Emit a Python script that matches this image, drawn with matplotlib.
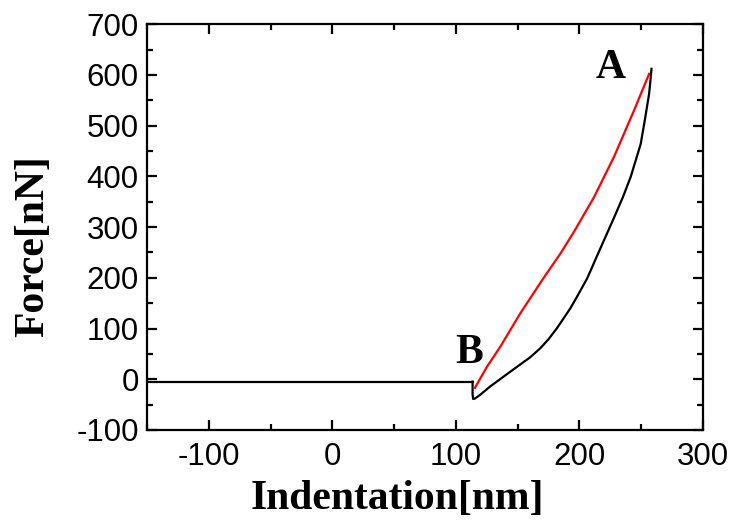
import numpy as np
import matplotlib.pyplot as plt
from matplotlib.ticker import MultipleLocator

plt.rcParams['axes.unicode_minus'] = False

# approach segment (flat, before contact)
approach_x = [-150, 113.5]
approach_y = [-4.5, -4.5]

# loading curve, B -> A
load_x = [115.4, 125.0, 135.8, 152.0, 169.7, 184.6, 195.4, 211.6, 227.9, 244.2, 256.4]
load_y = [-17.0, 24.0, 63.6, 129.4, 195.0, 247.7, 290.0, 358.0, 438.0, 530.0, 602.0]

# unloading curve, A -> snap-off
unload_x = [258.3, 257.5, 256.4, 253.0, 249.6, 241.5, 235.0, 227.9, 214.4, 206.3, 198.1,
            192.7, 181.9, 175.0, 168.3, 160.0, 152.0, 138.5, 127.6, 119.5, 115.4, 114.0,
            113.5, 113.5]
unload_y = [612.0, 590.0, 563.0, 512.0, 464.0, 399.0, 358.0, 318.0, 244.0, 199.0, 163.0,
            140.0, 101.0, 79.0, 61.0, 43.0, 29.0, 5.0, -14.5, -31.0, -38.0, -39.0,
            -30.0, -4.5]

x_ticks = [-100, 0, 100, 200, 300]
y_ticks = [-100, 0, 100, 200, 300, 400, 500, 600, 700]

fig = plt.figure(figsize=(7.3, 5.25), dpi=100)
ax = fig.add_axes([0.2014, 0.181, 0.7616, 0.773])

ax.plot(approach_x, approach_y, color='black', lw=1.6)
ax.plot(unload_x, unload_y, color='black', lw=1.6)
ax.plot(load_x, load_y, color='red', lw=1.6)

ax.set_xlim(-150, 300)
ax.set_ylim(-100, 700)
ax.set_xticks(x_ticks)
ax.set_yticks(y_ticks)
ax.xaxis.set_minor_locator(MultipleLocator(50))
ax.yaxis.set_minor_locator(MultipleLocator(50))

for lab in ax.get_xticklabels() + ax.get_yticklabels():
    lab.set_fontfamily('Liberation Sans')
    lab.set_fontsize(22.5)

ax.tick_params(which='both', direction='in', top=True, right=True, width=1.6)
ax.tick_params(which='major', length=7)
ax.tick_params(which='minor', length=4)
ax.tick_params(axis='y', pad=6)
ax.tick_params(axis='x', pad=9)
for sp in ax.spines.values():
    sp.set_linewidth(1.6)

label_font = dict(family='Liberation Serif', weight='bold', size=30)
fig.text(397.5 / 730, 1 - 499 / 525, 'Indentation[nm]', ha='center', va='center', **label_font)
fig.text(33 / 730, 1 - 246 / 525, 'Force[nN]', ha='center', va='center', rotation=90, **label_font)

ax.text(225, 613, 'A', ha='center', va='center', **label_font)
ax.text(110.6, 51, 'B', ha='center', va='center', **label_font)

fig.savefig('out.png', dpi=100)
